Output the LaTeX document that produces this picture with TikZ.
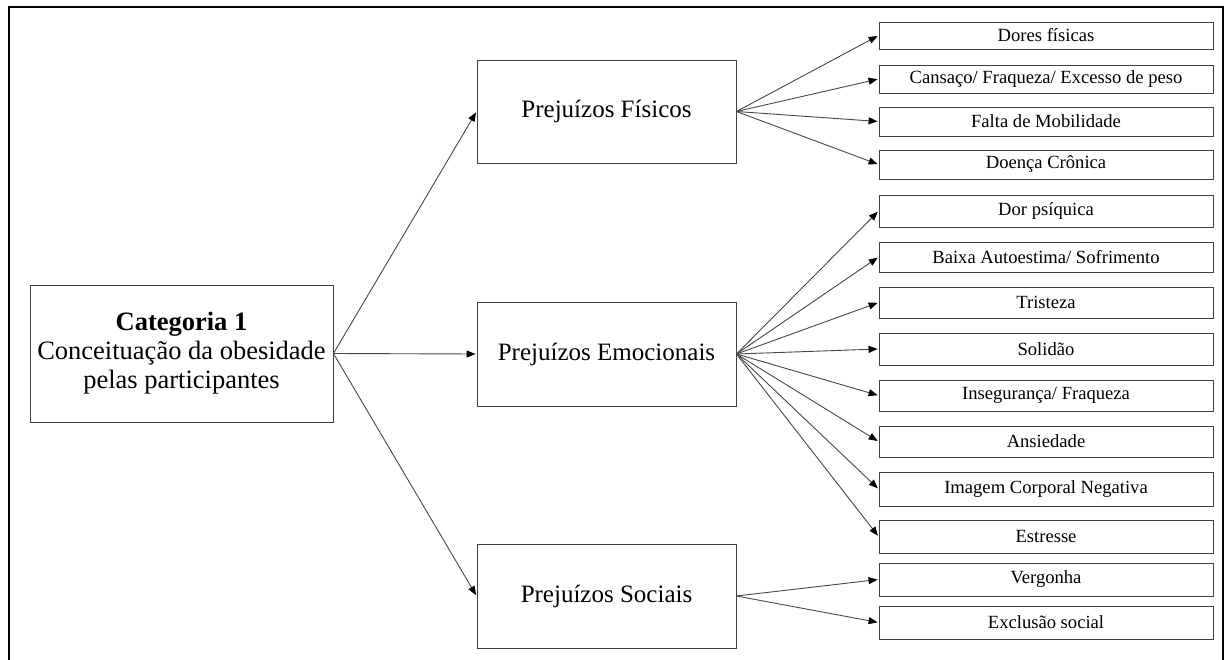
\documentclass[tikz,border=0pt]{standalone}
\usepackage{fontspec}
\setmainfont{Liberation Serif}
\usetikzlibrary{arrows.meta}

\tikzset{
  box/.style={draw=black!75, line width=0.9pt, inner sep=0pt, align=center},
  catbox/.style={box, minimum width=303pt, minimum height=137pt,
    font=\fontsize{26.5}{29}\selectfont},
  midbox/.style={box, minimum width=259pt, minimum height=104pt,
    font=\fontsize{25}{30}\selectfont},
  leafbox/.style={box, minimum width=334pt, minimum height=29pt,
    font=\fontsize{18.6}{22}\selectfont},
  link/.style={draw=black!72, line width=0.9pt,
    -{Triangle[length=9pt, width=7pt, fill=black, color=black]}, shorten >=1pt},
}

\begin{document}
\begin{tikzpicture}[x=1pt, y=-1pt]
  \useasboundingbox (0,0) rectangle (1230,660);

  % outer frame, open at the bottom
  \draw[line width=2pt] (8.5,662) -- (8.5,7) -- (1223,7) -- (1223,662);

  % category and the three groups
  \node[catbox] (cat) at (181.5,353.5)
    {\textbf{Categoria 1}\\Conceituação da obesidade\\pelas participantes};
  \node[midbox, minimum height=103pt] (fis) at (606.5,111.5) {Prejuízos Físicos};
  \node[midbox] (emo) at (606.5,354) {Prejuízos Emocionais};
  \node[midbox] (soc) at (606.5,596) {Prejuízos Sociais};

  % physical
  \node[leafbox, minimum height=27pt] (f1) at (1046,35.5) {Dores físicas};
  \node[leafbox, minimum height=28pt] (f2) at (1046,79) {Cansaço/ Fraqueza/ Excesso de peso};
  \node[leafbox] (f3) at (1046,121.5) {Falta de Mobilidade};
  \node[leafbox] (f4) at (1046,164.5) {Doença Crônica};

  % emotional
  \node[leafbox, minimum height=32pt] (e1) at (1046,211) {Dor psíquica};
  \node[leafbox, minimum height=30pt] (e2) at (1046,257) {Baixa Autoestima/ Sofrimento};
  \node[leafbox, minimum height=31pt] (e3) at (1046,302.5) {Tristeza};
  \node[leafbox, minimum height=32pt] (e4) at (1046,349) {Solidão};
  \node[leafbox, minimum height=31pt] (e5) at (1046,395.5) {Insegurança/ Fraqueza};
  \node[leafbox, minimum height=31pt] (e6) at (1046,441.5) {Ansiedade};
  \node[leafbox, minimum height=34pt] (e7) at (1046,489) {Imagem Corporal Negativa};
  \node[leafbox, minimum height=33pt] (e8) at (1046,536.5) {Estresse};

  % social
  \node[leafbox, minimum height=33pt] (s1) at (1046,579.5) {Vergonha};
  \node[leafbox, minimum height=33pt] (s2) at (1046,622.5) {Exclusão social};

  % connectors
  \foreach \t in {fis,emo,soc} \draw[link] (cat.east) -- (\t.west);
  \foreach \t in {f1,f2,f3,f4} \draw[link] (fis.east) -- (\t.west);
  \foreach \t in {e1,e2,e3,e4,e5,e6,e7,e8} \draw[link] (emo.east) -- (\t.west);
  \foreach \t in {s1,s2} \draw[link] (soc.east) -- (\t.west);
\end{tikzpicture}
\end{document}
